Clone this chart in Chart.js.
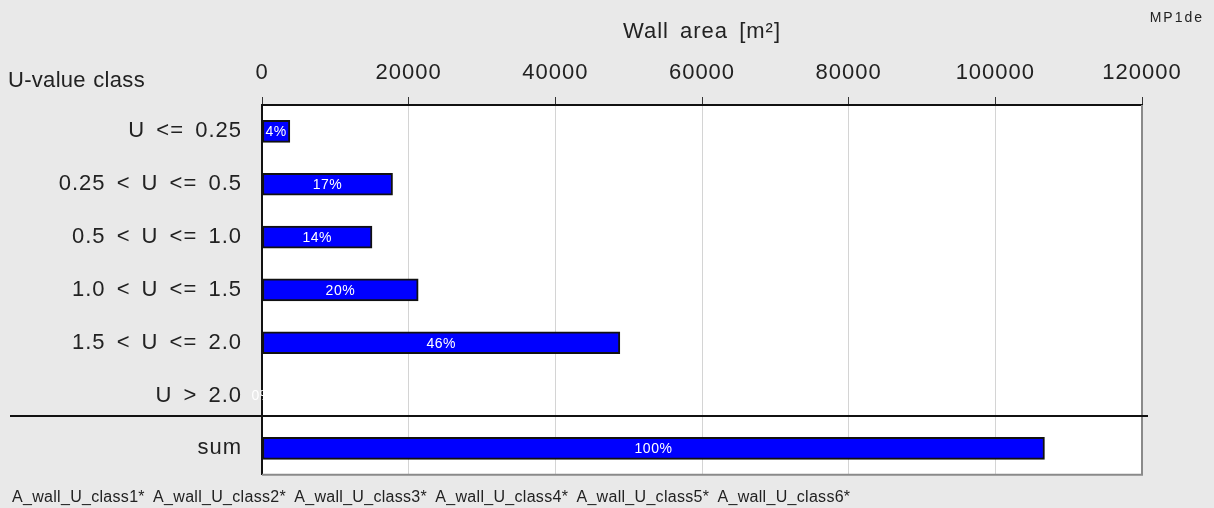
<!DOCTYPE html>
<html>
<head>
<meta charset="utf-8">
<script src="https://cdn.jsdelivr.net/npm/chart.js@4.4.0/dist/chart.umd.min.js"></script>
<style>
  html, body { margin: 0; padding: 0; background: #e9e9e9; }
  #wrap { width: 1214px; height: 508px; }
</style>
</head>
<body>
<div id="wrap"><canvas id="chart" width="1214" height="508"></canvas></div>
<script>
// values
const classes = ['U <= 0.25', '0.25 < U <= 0.5', '0.5 < U <= 1.0', '1.0 < U <= 1.5', '1.5 < U <= 2.0', 'U > 2.0', 'sum'];
const wallArea = [3800, 17800, 15000, 21300, 48800, 0, 106700];
const shareLabels = ['4%', '17%', '14%', '20%', '46%', '0%', '100%'];
const areaTicks = [0, 20000, 40000, 60000, 80000, 100000, 120000];
const footerNames = ['A_wall_U_class1*', 'A_wall_U_class2*', 'A_wall_U_class3*', 'A_wall_U_class4*', 'A_wall_U_class5*', 'A_wall_U_class6*'];

const FONT = '"Liberation Sans", Arial, sans-serif';

const extras = {
  id: 'extras',
  beforeDraw(chart) {
    const {ctx, chartArea: a} = chart;
    ctx.save();
    ctx.fillStyle = '#e9e9e9';
    ctx.fillRect(0, 0, chart.width, chart.height);
    ctx.fillStyle = '#ffffff';
    ctx.fillRect(a.left, a.top, a.right - a.left, a.bottom - a.top);
    ctx.restore();
    // the original renderer spaces its glyphs a bit wider
    ctx.letterSpacing = '1px';
    ctx.wordSpacing = '4px';
  },
  afterDatasetsDraw(chart) {
    const {ctx} = chart;
    const meta = chart.getDatasetMeta(0);
    ctx.save();
    ctx.fillStyle = '#ffffff';
    ctx.font = '14px ' + FONT;
    ctx.letterSpacing = '0.5px';
    ctx.wordSpacing = '0px';
    ctx.textAlign = 'center';
    ctx.textBaseline = 'middle';
    meta.data.forEach((bar, i) => {
      ctx.fillText(shareLabels[i], (bar.x + bar.base) / 2, bar.y + 1);
    });
    ctx.restore();
  },
  afterDraw(chart) {
    const {ctx, chartArea: a, scales} = chart;
    ctx.save();
    // right and bottom frame
    ctx.strokeStyle = '#8a8a8a';
    ctx.lineWidth = 2;
    ctx.beginPath();
    ctx.moveTo(a.right, a.top);
    ctx.lineTo(a.right, a.bottom);
    ctx.lineTo(a.left, a.bottom);
    ctx.stroke();
    // separator above the sum row
    const y5 = scales.y.getPixelForValue(5);
    const y6 = scales.y.getPixelForValue(6);
    const sepY = Math.round(y5 + (y6 - y5) * 0.38);
    ctx.strokeStyle = '#111';
    ctx.lineWidth = 2;
    ctx.beginPath();
    ctx.moveTo(10, sepY);
    ctx.lineTo(a.right + 6, sepY);
    ctx.stroke();
    // texts
    ctx.fillStyle = '#222';
    ctx.textBaseline = 'middle';
    ctx.textAlign = 'left';
    ctx.font = '22px ' + FONT;
    ctx.letterSpacing = '0.3px';
    ctx.wordSpacing = '1px';
    ctx.fillText('U-value class', 8, 81);
    ctx.font = '16px ' + FONT;
    ctx.letterSpacing = '0.3px';
    ctx.wordSpacing = '3.5px';
    ctx.fillText(footerNames.join(' '), 12, 498);
    ctx.textAlign = 'right';
    ctx.font = '14px ' + FONT;
    ctx.letterSpacing = '2px';
    ctx.wordSpacing = '0px';
    ctx.fillText('MP1de', 1204, 18);
    ctx.restore();
    ctx.letterSpacing = '0px';
    ctx.wordSpacing = '0px';
  }
};

new Chart(document.getElementById('chart'), {
  type: 'bar',
  data: {
    labels: classes,
    datasets: [{
      data: wallArea,
      backgroundColor: '#0000ff',
      borderColor: '#111111',
      borderWidth: 2,
      borderSkipped: false,
      barThickness: 22
    }]
  },
  options: {
    indexAxis: 'y',
    responsive: false,
    animation: false,
    devicePixelRatio: 1,
    layout: { padding: { top: 0, left: 0, right: 72, bottom: 30 } },
    plugins: {
      legend: { display: false },
      tooltip: { enabled: false }
    },
    scales: {
      x: {
        position: 'top',
        min: 0,
        max: 120000,
        afterBuildTicks(scale) {
          scale.ticks = areaTicks.map(v => ({ value: v }));
        },
        afterFit(scale) { scale.height = 105; },
        ticks: {
          color: '#222',
          font: { family: FONT, size: 22 },
          padding: 11,
          callback: v => String(v)
        },
        grid: { color: '#d4d4d4', lineWidth: 1, tickColor: '#333', tickLength: 8 },
        border: { display: true, color: '#111', width: 2 },
        title: {
          display: true,
          text: 'Wall area [m²]',
          color: '#222',
          font: { family: FONT, size: 22 },
          padding: { top: 19, bottom: 0 }
        }
      },
      y: {
        afterFit(scale) { scale.width = 262; },
        ticks: {
          color: '#222',
          font: { family: FONT, size: 22 },
          padding: 20
        },
        grid: { display: false, drawTicks: false },
        border: { display: true, color: '#111', width: 2 }
      }
    }
  },
  plugins: [extras]
});
</script>
</body>
</html>
